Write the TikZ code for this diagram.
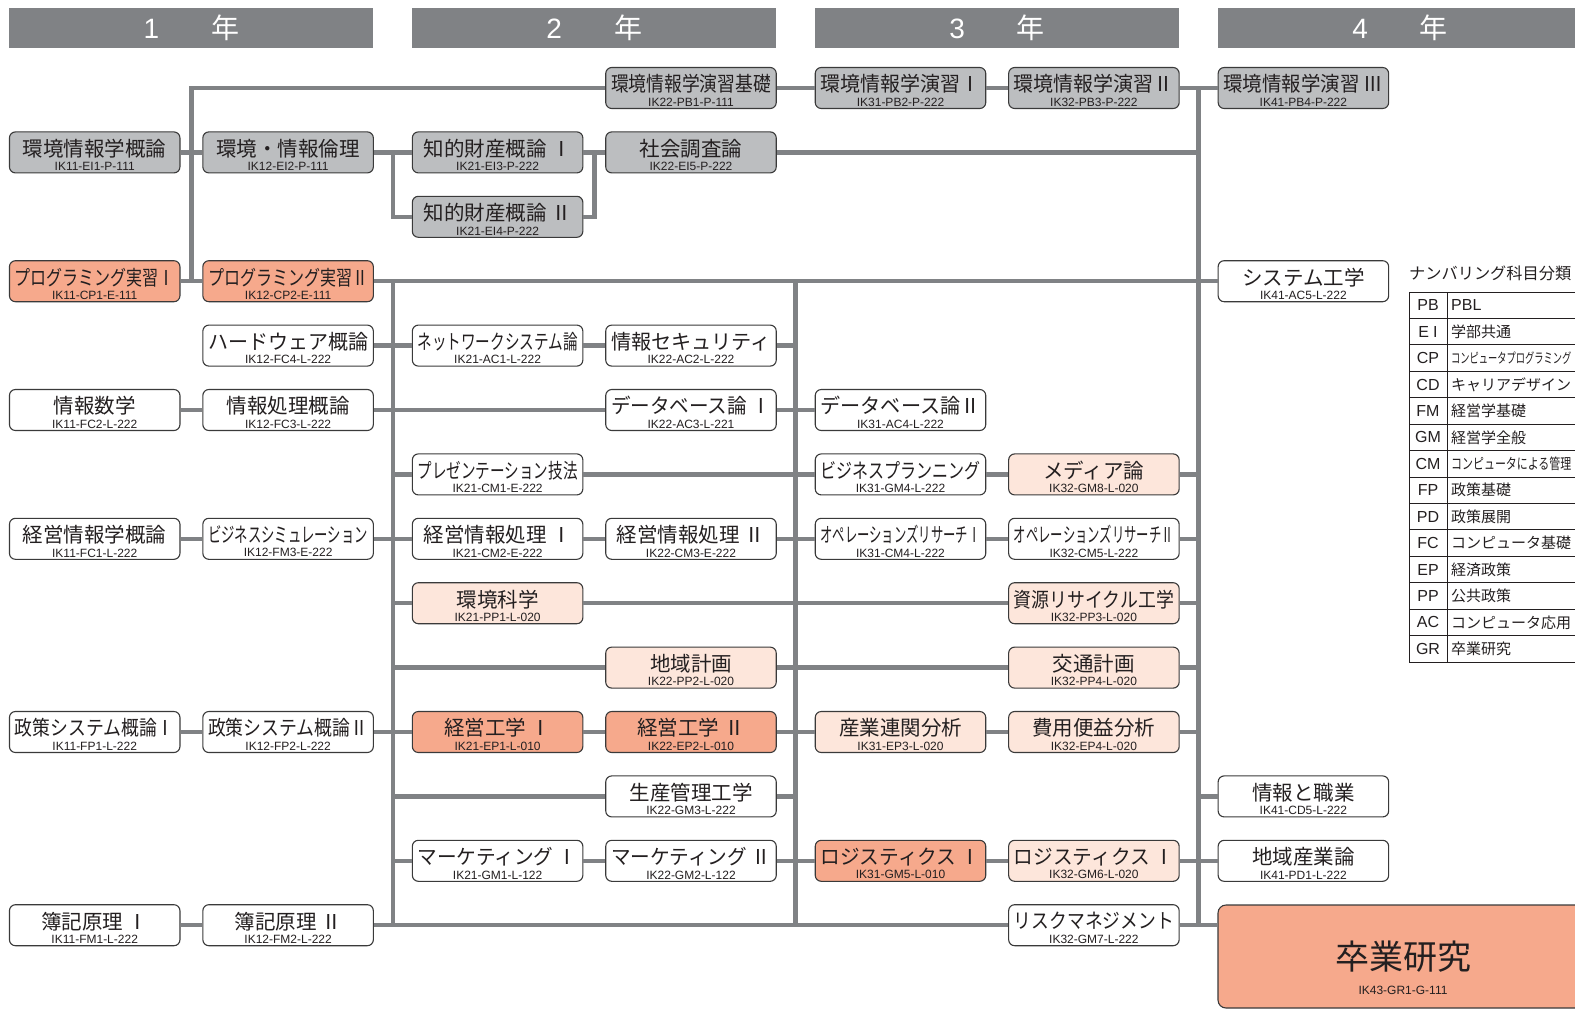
\documentclass[tikz,border=0pt]{standalone}
\usepackage{fontspec}
\usepackage{graphicx}
\setmainfont{Noto Sans CJK JP}
\newfontfamily\latin{Liberation Sans}
\usetikzlibrary{calc}
\definecolor{hgray}{HTML}{808285}
\definecolor{linegray}{HTML}{808285}
\definecolor{edge}{HTML}{3A3A3A}
\definecolor{ink}{HTML}{231F20}
\definecolor{kgray}{HTML}{BCBEC0}
\definecolor{salmon}{HTML}{F6A98C}
\definecolor{pale}{HTML}{FDE6DB}
\newsavebox\namebox
\newcommand\nm[1]{\sbox\namebox{#1}\rule{0pt}{\dimexpr\ht\namebox+5pt\relax}\ifdim\wd\namebox>160pt \resizebox{160pt}{\height}{\usebox\namebox}\else\usebox\namebox\fi}
\newcommand\cd[1]{{\latin\fontsize{12}{12}\selectfont #1}}
\tikzset{
  course/.style={draw=edge, line width=1.1pt, rounded corners=6pt, minimum width=170.5pt, minimum height=41pt, inner sep=0pt, align=center, text=ink, font=\fontsize{20.5}{20.5}\selectfont},
  pbox/.style={course, fill=kgray},
  hbox/.style={course, fill=salmon},
  lbox/.style={course, fill=pale},
  wbox/.style={course, fill=white},
  wire/.style={draw=linegray, line width=4.5pt},
  hdr/.style={fill=hgray, minimum width=363.9pt, minimum height=39.4pt, inner sep=0pt, text=white, font=\fontsize{28}{28}\selectfont},
  tab/.style={draw=ink, line width=0.9pt},
  key/.style={text=ink, font=\latin\fontsize{16}{16}\selectfont},
  val/.style={anchor=west, inner sep=0pt, text=ink, font=\fontsize{15}{15}\selectfont},
}
\def\xA{94.7}
\def\xB{288.1}
\def\xC{497.6}
\def\xD{691}
\def\xE{900.5}
\def\xF{1093.9}
\def\xG{1303.4}

\begin{document}
\begin{tikzpicture}[x=1pt, y=-1pt]
  \useasboundingbox (0,0) rectangle (1575,1013);
  \clip (0,0) rectangle (1575,1013);

  % year headers
  \node[hdr] (yr1) at (191.35,28) {{\latin 1}\hspace{52pt}年};
  \node[hdr] (yr2) at (594.25,28) {{\latin 2}\hspace{52pt}年};
  \node[hdr] (yr3) at (997.15,28) {{\latin 3}\hspace{52pt}年};
  \node[hdr] (yr4) at (1400.05,28) {{\latin 4}\hspace{52pt}年};

  % bus joints
  \coordinate (va) at (191.3,88);
  \coordinate (vaB) at (191.3,281.2);
  \coordinate (vb) at (392.8,281.2);
  \coordinate (vbB) at (392.8,925.2);
  \coordinate (vc) at (795.7,281.2);
  \coordinate (vcB) at (795.7,925.2);
  \coordinate (vd) at (1198.6,88);
  \coordinate (vdB) at (1198.6,925.2);
  \coordinate (ka) at (392.8,152.4);
  \coordinate (kb) at (594.3,152.4);

  % courses
  \node[pbox] (pb1) at (\xD,88) {\nm{環境情報学演習基礎}\\[-6pt]\cd{IK22-PB1-P-111}};
  \node[pbox] (pb2) at (\xE,88) {\nm{環境情報学演習Ⅰ}\\[-6pt]\cd{IK31-PB2-P-222}};
  \node[pbox] (pb3) at (\xF,88) {\nm{環境情報学演習Ⅱ}\\[-6pt]\cd{IK32-PB3-P-222}};
  \node[pbox] (pb4) at (\xG,88) {\nm{環境情報学演習 Ⅲ}\\[-6pt]\cd{IK41-PB4-P-222}};

  \node[pbox] (ei1) at (\xA,152.4) {\nm{環境情報学概論}\\[-6pt]\cd{IK11-EI1-P-111}};
  \node[pbox] (ei2) at (\xB,152.4) {\nm{環境・情報倫理}\\[-6pt]\cd{IK12-EI2-P-111}};
  \node[pbox] (ei3) at (\xC,152.4) {\nm{知的財産概論 Ⅰ}\\[-6pt]\cd{IK21-EI3-P-222}};
  \node[pbox] (ei5) at (\xD,152.4) {\nm{社会調査論}\\[-6pt]\cd{IK22-EI5-P-222}};
  \node[pbox] (ei4) at (\xC,216.8) {\nm{知的財産概論 Ⅱ}\\[-6pt]\cd{IK21-EI4-P-222}};

  \node[hbox] (cp1) at (\xA,281.2) {\nm{プログラミング実習Ⅰ}\\[-6pt]\cd{IK11-CP1-E-111}};
  \node[hbox] (cp2) at (\xB,281.2) {\nm{プログラミング実習Ⅱ}\\[-6pt]\cd{IK12-CP2-E-111}};
  \node[wbox] (ac5) at (\xG,281.2) {\nm{システム工学}\\[-6pt]\cd{IK41-AC5-L-222}};

  \node[wbox] (fc4) at (\xB,345.6) {\nm{ハードウェア概論}\\[-6pt]\cd{IK12-FC4-L-222}};
  \node[wbox] (ac1) at (\xC,345.6) {\nm{ネットワークシステム論}\\[-6pt]\cd{IK21-AC1-L-222}};
  \node[wbox] (ac2) at (\xD,345.6) {\nm{情報セキュリティ}\\[-6pt]\cd{IK22-AC2-L-222}};

  \node[wbox] (fc2) at (\xA,410) {\nm{情報数学}\\[-6pt]\cd{IK11-FC2-L-222}};
  \node[wbox] (fc3) at (\xB,410) {\nm{情報処理概論}\\[-6pt]\cd{IK12-FC3-L-222}};
  \node[wbox] (ac3) at (\xD,410) {\nm{データベース論 Ⅰ}\\[-6pt]\cd{IK22-AC3-L-221}};
  \node[wbox] (ac4) at (\xE,410) {\nm{データベース論Ⅱ}\\[-6pt]\cd{IK31-AC4-L-222}};

  \node[wbox] (cm1) at (\xC,474.4) {\nm{プレゼンテーション技法}\\[-6pt]\cd{IK21-CM1-E-222}};
  \node[wbox] (gm4) at (\xE,474.4) {\nm{ビジネスプランニング}\\[-6pt]\cd{IK31-GM4-L-222}};
  \node[lbox] (gm8) at (\xF,474.4) {\nm{メディア論}\\[-6pt]\cd{IK32-GM8-L-020}};

  \node[wbox] (fc1) at (\xA,538.8) {\nm{経営情報学概論}\\[-6pt]\cd{IK11-FC1-L-222}};
  \node[wbox] (fm3) at (\xB,538.8) {\nm{ビジネスシミュレーション}\\[-6pt]\cd{IK12-FM3-E-222}};
  \node[wbox] (cm2) at (\xC,538.8) {\nm{経営情報処理 Ⅰ}\\[-6pt]\cd{IK21-CM2-E-222}};
  \node[wbox] (cm3) at (\xD,538.8) {\nm{経営情報処理 Ⅱ}\\[-6pt]\cd{IK22-CM3-E-222}};
  \node[wbox] (cm4) at (\xE,538.8) {\nm{オペレーションズリサーチⅠ}\\[-6pt]\cd{IK31-CM4-L-222}};
  \node[wbox] (cm5) at (\xF,538.8) {\nm{オペレーションズリサーチⅡ}\\[-6pt]\cd{IK32-CM5-L-222}};

  \node[lbox] (pp1) at (\xC,603.2) {\nm{環境科学}\\[-6pt]\cd{IK21-PP1-L-020}};
  \node[lbox] (pp3) at (\xF,603.2) {\nm{資源リサイクル工学}\\[-6pt]\cd{IK32-PP3-L-020}};

  \node[lbox] (pp2) at (\xD,667.6) {\nm{地域計画}\\[-6pt]\cd{IK22-PP2-L-020}};
  \node[lbox] (pp4) at (\xF,667.6) {\nm{交通計画}\\[-6pt]\cd{IK32-PP4-L-020}};

  \node[wbox] (fp1) at (\xA,732) {\nm{政策システム概論Ⅰ}\\[-6pt]\cd{IK11-FP1-L-222}};
  \node[wbox] (fp2) at (\xB,732) {\nm{政策システム概論Ⅱ}\\[-6pt]\cd{IK12-FP2-L-222}};
  \node[hbox] (ep1) at (\xC,732) {\nm{経営工学 Ⅰ}\\[-6pt]\cd{IK21-EP1-L-010}};
  \node[hbox] (ep2) at (\xD,732) {\nm{経営工学 Ⅱ}\\[-6pt]\cd{IK22-EP2-L-010}};
  \node[lbox] (ep3) at (\xE,732) {\nm{産業連関分析}\\[-6pt]\cd{IK31-EP3-L-020}};
  \node[lbox] (ep4) at (\xF,732) {\nm{費用便益分析}\\[-6pt]\cd{IK32-EP4-L-020}};

  \node[wbox] (gm3) at (\xD,796.4) {\nm{生産管理工学}\\[-6pt]\cd{IK22-GM3-L-222}};
  \node[wbox] (cd5) at (\xG,796.4) {\nm{情報と職業}\\[-6pt]\cd{IK41-CD5-L-222}};

  \node[wbox] (gm1) at (\xC,860.8) {\nm{マーケティング Ⅰ}\\[-6pt]\cd{IK21-GM1-L-122}};
  \node[wbox] (gm2) at (\xD,860.8) {\nm{マーケティング Ⅱ}\\[-6pt]\cd{IK22-GM2-L-122}};
  \node[hbox] (gm5) at (\xE,860.8) {\nm{ロジスティクス Ⅰ}\\[-6pt]\cd{IK31-GM5-L-010}};
  \node[lbox] (gm6) at (\xF,860.8) {\nm{ロジスティクス Ⅰ}\\[-6pt]\cd{IK32-GM6-L-020}};
  \node[wbox] (pd1) at (\xG,860.8) {\nm{地域産業論}\\[-6pt]\cd{IK41-PD1-L-222}};

  \node[wbox] (fm1) at (\xA,925.2) {\nm{簿記原理 Ⅰ}\\[-6pt]\cd{IK11-FM1-L-222}};
  \node[wbox] (fm2) at (\xB,925.2) {\nm{簿記原理 Ⅱ}\\[-6pt]\cd{IK12-FM2-L-222}};
  \node[wbox] (gm7) at (\xF,925.2) {\nm{リスクマネジメント}\\[-6pt]\cd{IK32-GM7-L-222}};
  \node[hbox, minimum width=370pt, minimum height=103pt, rounded corners=8pt, font=\fontsize{34}{34}\selectfont] (gr1) at (1403,956.5) {\rule{0pt}{52pt}卒業研究\\[-9pt]\cd{IK43-GR1-G-111}};

  % wires
  \draw[wire] (pb1) -- (va) -- (vaB);
  \draw[wire] (vd) -- (vdB);
  \draw[wire] (vb) -- (vbB);
  \draw[wire] (vc) -- (vcB);
  \draw[wire] (pb1) -- (pb2);
  \draw[wire] (pb2) -- (pb3);
  \draw[wire] (pb3) -- (pb4);
  \draw[wire] (ei1) -- (ei2);
  \draw[wire] (ei2) -- (ei3);
  \draw[wire] (ei3) -- (ei5);
  \draw[wire] (ei5) -- (ei5 -| vd);
  \draw[wire] (ei4) -| (ka);
  \draw[wire] (ei4) -| (kb);
  \draw[wire] (cp1) -- (cp2);
  \draw[wire] (cp2) -- (ac5);
  \draw[wire] (fc4) -- (ac1);
  \draw[wire] (ac1) -- (ac2);
  \draw[wire] (ac2) -- (ac2 -| vc);
  \draw[wire] (fc2) -- (fc3);
  \draw[wire] (fc3) -- (ac3);
  \draw[wire] (ac3) -- (ac4);
  \draw[wire] (cm1 -| vb) -- (cm1);
  \draw[wire] (cm1) -- (gm4);
  \draw[wire] (gm4) -- (gm8);
  \draw[wire] (gm8) -- (gm8 -| vd);
  \draw[wire] (fc1) -- (fm3);
  \draw[wire] (fm3) -- (cm2);
  \draw[wire] (cm2) -- (cm3);
  \draw[wire] (cm3) -- (cm4);
  \draw[wire] (cm4) -- (cm5);
  \draw[wire] (cm5) -- (cm5 -| vd);
  \draw[wire] (pp1 -| vb) -- (pp1);
  \draw[wire] (pp1) -- (pp3);
  \draw[wire] (pp3) -- (pp3 -| vd);
  \draw[wire] (pp2 -| vb) -- (pp2);
  \draw[wire] (pp2) -- (pp4);
  \draw[wire] (pp4) -- (pp4 -| vd);
  \draw[wire] (fp1) -- (fp2);
  \draw[wire] (fp2) -- (ep1);
  \draw[wire] (ep1) -- (ep2);
  \draw[wire] (ep2) -- (ep3);
  \draw[wire] (ep3) -- (ep4);
  \draw[wire] (ep4) -- (ep4 -| vd);
  \draw[wire] (gm3 -| vb) -- (gm3);
  \draw[wire] (gm3) -- (gm3 -| vc);
  \draw[wire] (cd5 -| vd) -- (cd5);
  \draw[wire] (gm1 -| vb) -- (gm1);
  \draw[wire] (gm1) -- (gm2);
  \draw[wire] (gm2) -- (gm5);
  \draw[wire] (gm5) -- (gm6);
  \draw[wire] (gm6) -- (pd1);
  \draw[wire] (fm1) -- (fm2);
  \draw[wire] (fm2) -- (gm7);
  \draw[wire] (gm7) -- (gm7 -| gr1.west);

  % numbering key
  \node[anchor=west, inner sep=0pt, text=ink, font=\fontsize{16.2}{16.2}\selectfont] (keyttl) at (1409,273) {ナンバリング科目分類};
  \draw[tab] (1409,292) rectangle (1600,662);
  \draw[tab] (1447,292) -- (1447,662);
  \draw[tab] (1409,318.4) -- (1600,318.4) (1409,344.9) -- (1600,344.9)
    (1409,371.3) -- (1600,371.3) (1409,397.7) -- (1600,397.7)
    (1409,424.2) -- (1600,424.2) (1409,450.6) -- (1600,450.6)
    (1409,477.0) -- (1600,477.0) (1409,503.4) -- (1600,503.4)
    (1409,529.9) -- (1600,529.9) (1409,556.3) -- (1600,556.3)
    (1409,582.7) -- (1600,582.7) (1409,609.2) -- (1600,609.2)
    (1409,635.6) -- (1600,635.6);
  \node[key] (kpb) at (1428,305.2) {PB};
  \node[key] (kei) at (1428,331.6) {E\hspace{4pt}I};
  \node[key] (kcp) at (1428,358.1) {CP};
  \node[key] (kcd) at (1428,384.5) {CD};
  \node[key] (kfm) at (1428,410.9) {FM};
  \node[key] (kgm) at (1428,437.4) {GM};
  \node[key] (kcm) at (1428,463.8) {CM};
  \node[key] (kfp) at (1428,490.2) {FP};
  \node[key] (kpd) at (1428,516.7) {PD};
  \node[key] (kfc) at (1428,543.1) {FC};
  \node[key] (kep) at (1428,569.5) {EP};
  \node[key] (kpp) at (1428,595.9) {PP};
  \node[key] (kac) at (1428,622.4) {AC};
  \node[key] (kgr) at (1428,648.8) {GR};
  \node[val] (vpb) at (1451,305.2) {\latin\fontsize{16}{16}\selectfont PBL};
  \node[val] (vei) at (1451,331.6) {学部共通};
  \node[val] (vcp) at (1451,358.1) {\scalebox{0.66}[1]{\fontsize{14}{14}\selectfont コンピュータプログラミング}};
  \node[val] (vcd) at (1451,384.5) {キャリアデザイン};
  \node[val] (vfm) at (1451,410.9) {経営学基礎};
  \node[val] (vgm) at (1451,437.4) {経営学全般};
  \node[val] (vcm) at (1451,463.8) {\scalebox{0.73}[1]{コンピュータによる管理}};
  \node[val] (vfp) at (1451,490.2) {政策基礎};
  \node[val] (vpd) at (1451,516.7) {政策展開};
  \node[val] (vfc) at (1451,543.1) {コンピュータ基礎};
  \node[val] (vep) at (1451,569.5) {経済政策};
  \node[val] (vpp) at (1451,595.9) {公共政策};
  \node[val] (vac) at (1451,622.4) {コンピュータ応用};
  \node[val] (vgr) at (1451,648.8) {卒業研究};
\end{tikzpicture}
\end{document}
